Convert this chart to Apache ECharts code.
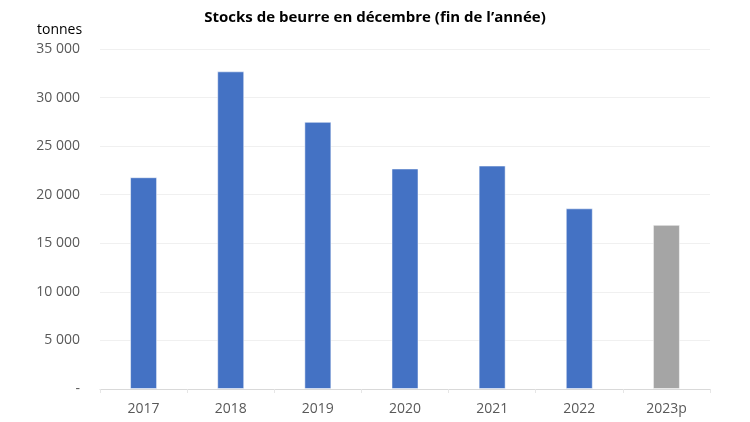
<!DOCTYPE html>
<html><head><meta charset="utf-8">
<script src="https://cdn.jsdelivr.net/npm/echarts@6/dist/echarts.min.js"></script>
<style>html,body{margin:0;padding:0;background:#fff}#c{width:750px;height:422px}</style>
</head><body><div id="c"></div>
<script>
const categories = ['2017','2018','2019','2020','2021','2022','2023p'];
const values = [21800, 32700, 27500, 22700, 23000, 18600, 16900];
const barColors = ['#4472C4','#4472C4','#4472C4','#4472C4','#4472C4','#4472C4','#A5A5A5'];

const chart = echarts.init(document.getElementById('c'), null, {renderer:'canvas'});
const fmt = v => v === 0 ? '-' : String(v).replace(/\B(?=(\d{3})+(?!\d))/g, ' ');
chart.setOption({
  animation:false,
  textStyle:{fontFamily:'"Open Sans", sans-serif'},
  title:{text:'Stocks de beurre en décembre (fin de l’année)', left:'center', top:5,
    textStyle:{fontFamily:'"Open Sans", sans-serif', fontSize:15, fontWeight:'bold', color:'#000'}},
  graphic:[{type:'text', left:37, top:23, style:{text:'tonnes', font:'14px "Open Sans", sans-serif', fill:'#000'}}],
  grid:{left:100, right:40, top:49, bottom:33},
  xAxis:{type:'category', data:categories,
    axisLine:{lineStyle:{color:'#D9D9D9'}},
    axisTick:{show:true, length:4, lineStyle:{color:'#E6E6E6'}},
    axisLabel:{color:'#595959', fontSize:14, margin:13}},
  yAxis:{type:'value', min:0, max:35000, interval:5000,
    axisLine:{show:false}, axisTick:{show:false},
    axisLabel:{color:'#595959', fontSize:14, margin:20, formatter:fmt},
    splitLine:{lineStyle:{color:'#F0F0F0'}}},
  series:[{type:'bar', barWidth:'31%',
    data:values.map((v,i)=>({value:v, itemStyle:{color:barColors[i]}})),
    itemStyle:{borderColor:'rgba(255,255,255,0.5)', borderWidth:1}}]
});
</script></body></html>
